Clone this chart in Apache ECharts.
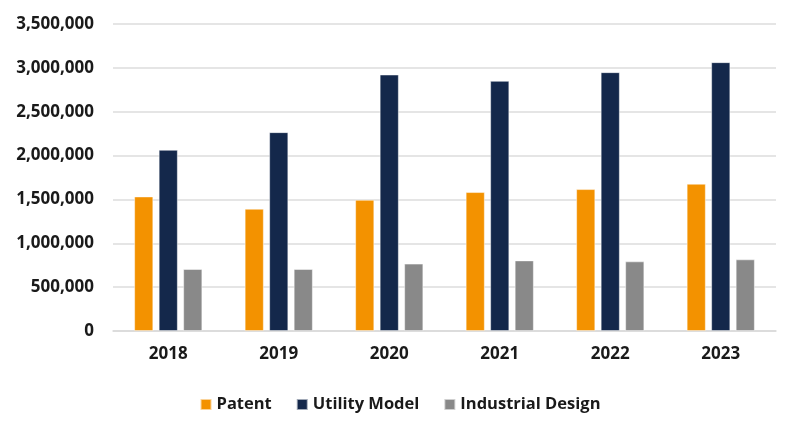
<!DOCTYPE html>
<html>
<head>
<meta charset="utf-8">
<script src="https://cdn.jsdelivr.net/npm/echarts@6/dist/echarts.min.js"></script>
<style>html,body{margin:0;padding:0;background:#fff;}#c{width:800px;height:433px;}</style>
</head>
<body>
<div id="c"></div>
<script>
const years = ['2018', '2019', '2020', '2021', '2022', '2023'];
const patent = [1533000, 1393000, 1495000, 1583000, 1617000, 1678000];
const utilityModel = [2065000, 2266000, 2923000, 2851000, 2950000, 3064000];
const industrialDesign = [706000, 706000, 767000, 804000, 793000, 816000];
const seriesNames = ['Patent', 'Utility Model', 'Industrial Design'];

const font = 'Open Sans';
const chart = echarts.init(document.getElementById('c'));
function mk(name, data, color) {
  return {
    name: name, type: 'bar', data: data, barWidth: 19, barGap: '29%',
    itemStyle: { color: color, borderColor: 'rgba(255,255,255,0.6)', borderWidth: 0.8 }
  };
}
chart.setOption({
  animation: false,
  backgroundColor: '#fff',
  textStyle: { fontFamily: font },
  grid: { left: 113, right: 24, top: 24, bottom: 102, containLabel: false },
  legend: {
    data: seriesNames, left: 'center', top: 391, itemWidth: 11, itemHeight: 11, itemGap: 24,
    icon: 'rect',
    textStyle: { fontFamily: font, fontWeight: 'bold', fontSize: 16.5, color: '#1a1a1a' }
  },
  xAxis: {
    type: 'category', data: years,
    axisLine: { lineStyle: { color: '#d9d9d9', width: 1.5 } },
    axisTick: { show: false },
    axisLabel: { fontFamily: font, fontWeight: 'bold', fontSize: 17, color: '#1a1a1a', margin: 15 }
  },
  yAxis: {
    type: 'value', min: 0, max: 3500000, interval: 500000,
    axisLine: { show: false }, axisTick: { show: false },
    splitLine: { lineStyle: { color: '#dcdcdc', width: 1.5 } },
    axisLabel: {
      fontFamily: font, fontWeight: 'bold', fontSize: 17, color: '#1a1a1a', margin: 19,
      formatter: v => v.toLocaleString('en-US')
    }
  },
  series: [
    mk(seriesNames[0], patent, '#F39200'),
    mk(seriesNames[1], utilityModel, '#14284B'),
    mk(seriesNames[2], industrialDesign, '#898989')
  ]
});
</script>
</body>
</html>
